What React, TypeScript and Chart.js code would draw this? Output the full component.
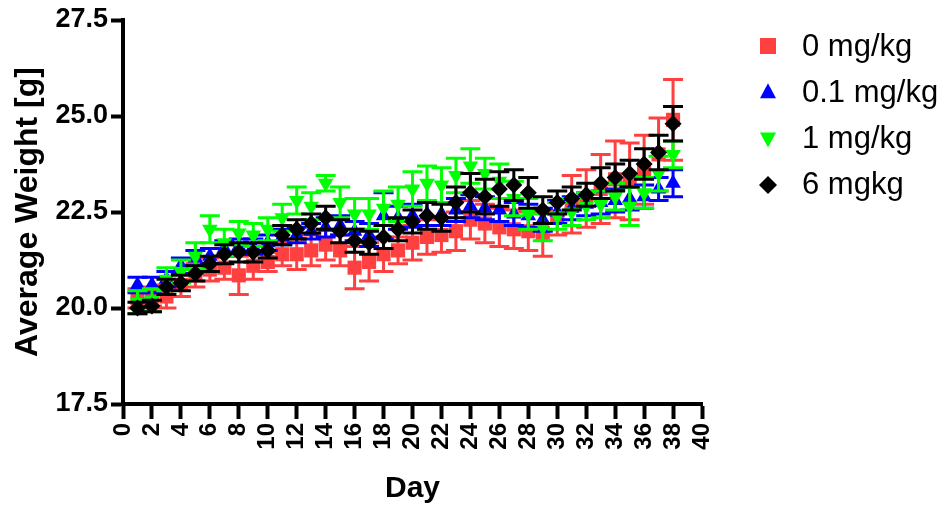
import React, { useEffect, useRef } from 'react';
import { Chart, registerables } from 'chart.js';

Chart.register(...registerables);

const days = [1, 2, 3, 4, 5, 6, 7, 8, 9, 10, 11, 12, 13, 14, 15, 16, 17, 18, 19, 20, 21, 22, 23, 24, 25, 26, 27, 28, 29, 30, 31, 32, 33, 34, 35, 36, 37, 38];

const seriesLabels = ['0 mg/kg', '0.1 mg/kg', '1 mg/kg', '6 mgkg'];
const seriesColors = ['#ff4040', '#0000ff', '#00ff00', '#000000'];

const mean0 = [20.25, 20.3, 20.3, 20.6, 20.85, 21.0, 21.05, 20.85, 21.1, 21.2, 21.4, 21.4, 21.5, 21.65, 21.5, 21.05, 21.2, 21.4, 21.5, 21.7, 21.85, 21.9, 22.0, 22.3, 22.2, 22.1, 22.05, 22.0, 21.95, 22.35, 22.7, 22.85, 23.1, 23.35, 23.3, 23.6, 24.0, 24.9];
const sem0 = [0.25, 0.25, 0.3, 0.3, 0.3, 0.3, 0.3, 0.5, 0.35, 0.25, 0.3, 0.4, 0.4, 0.4, 0.4, 0.55, 0.5, 0.45, 0.35, 0.45, 0.45, 0.45, 0.5, 0.5, 0.5, 0.5, 0.5, 0.5, 0.6, 0.45, 0.75, 0.75, 0.9, 1.0, 1.0, 0.9, 0.95, 1.05];

const mean01 = [20.6, 20.6, 20.75, 21.1, 21.3, 21.35, 21.55, 21.6, 21.6, 21.7, 21.85, 21.9, 22.0, 22.1, 22.15, 22.0, 21.9, 22.4, 22.35, 22.4, 22.45, 22.45, 22.55, 22.65, 22.6, 22.55, 22.45, 22.4, 22.3, 22.5, 22.6, 22.7, 22.75, 22.8, 22.85, 22.9, 23.1, 23.25];
const sem01 = [0.2, 0.2, 0.2, 0.2, 0.2, 0.2, 0.2, 0.2, 0.2, 0.2, 0.2, 0.2, 0.2, 0.25, 0.25, 0.25, 0.3, 0.6, 0.3, 0.3, 0.3, 0.3, 0.3, 0.3, 0.3, 0.3, 0.3, 0.3, 0.3, 0.3, 0.3, 0.3, 0.3, 0.3, 0.3, 0.3, 0.3, 0.35];

const mean1 = [20.15, 20.2, 20.75, 20.95, 21.35, 22.05, 21.7, 21.95, 21.9, 22.05, 22.35, 22.8, 22.65, 23.25, 22.75, 22.45, 22.45, 22.6, 22.7, 23.1, 23.25, 23.2, 23.45, 23.7, 23.5, 23.3, 22.85, 22.45, 22.1, 22.4, 22.5, 22.65, 22.7, 22.9, 22.65, 23.0, 23.5, 24.0];
const sem1 = [0.3, 0.3, 0.3, 0.3, 0.35, 0.35, 0.35, 0.3, 0.3, 0.3, 0.35, 0.35, 0.35, 0.2, 0.4, 0.4, 0.4, 0.45, 0.45, 0.45, 0.45, 0.45, 0.45, 0.45, 0.4, 0.45, 0.45, 0.4, 0.35, 0.35, 0.35, 0.35, 0.35, 0.35, 0.5, 0.4, 0.45, 0.35];

const mean6 = [20.0, 20.05, 20.55, 20.65, 20.9, 21.15, 21.4, 21.45, 21.45, 21.5, 21.9, 22.05, 22.2, 22.35, 22.0, 21.75, 21.7, 21.85, 22.05, 22.25, 22.4, 22.35, 22.75, 23.0, 22.9, 23.1, 23.2, 23.0, 22.55, 22.75, 22.85, 22.95, 23.25, 23.4, 23.5, 23.75, 24.05, 24.8];
const sem6 = [0.15, 0.15, 0.2, 0.2, 0.2, 0.2, 0.25, 0.25, 0.25, 0.2, 0.25, 0.25, 0.25, 0.3, 0.3, 0.3, 0.3, 0.3, 0.3, 0.3, 0.35, 0.35, 0.4, 0.5, 0.45, 0.45, 0.4, 0.4, 0.35, 0.3, 0.3, 0.3, 0.4, 0.35, 0.35, 0.4, 0.45, 0.45];

const xTickValues = [0, 2, 4, 6, 8, 10, 12, 14, 16, 18, 20, 22, 24, 26, 28, 30, 32, 34, 36, 38, 40];
const yTickValues = [17.5, 20.0, 22.5, 25.0, 27.5];

const FONT = "'Liberation Sans', Arial, Helvetica, sans-serif";

const errorBarPlugin = {
  id: 'errorBars',
  beforeDatasetDraw(chart: any, args: any) {
    const ds = chart.data.datasets[args.index];
    const errs: number[] = ds.errors;
    if (!errs) return;
    const ctx = chart.ctx;
    const xs = chart.scales.x;
    const ys = chart.scales.y;
    ctx.save();
    ctx.strokeStyle = ds.borderColor;
    ctx.lineWidth = 3;
    ds.data.forEach((p: any, i: number) => {
      const x = xs.getPixelForValue(p.x);
      const yt = ys.getPixelForValue(p.y + errs[i]);
      const yb = ys.getPixelForValue(p.y - errs[i]);
      ctx.beginPath();
      ctx.moveTo(x, yt);
      ctx.lineTo(x, yb);
      ctx.moveTo(x - 10, yt);
      ctx.lineTo(x + 10, yt);
      ctx.moveTo(x - 10, yb);
      ctx.lineTo(x + 10, yb);
      ctx.stroke();
    });
    ctx.restore();
  },
};

function drawMarker(ctx: CanvasRenderingContext2D, style: string, x: number, y: number, color: string) {
  ctx.fillStyle = color;
  ctx.beginPath();
  if (style === 'square') {
    ctx.rect(x - 8, y - 8, 16, 16);
  } else if (style === 'up') {
    ctx.moveTo(x, y - 9);
    ctx.lineTo(x + 8, y + 6);
    ctx.lineTo(x - 8, y + 6);
    ctx.closePath();
  } else if (style === 'down') {
    ctx.moveTo(x, y + 9);
    ctx.lineTo(x + 8, y - 6);
    ctx.lineTo(x - 8, y - 6);
    ctx.closePath();
  } else {
    ctx.moveTo(x, y - 9);
    ctx.lineTo(x + 9, y);
    ctx.lineTo(x, y + 9);
    ctx.lineTo(x - 9, y);
    ctx.closePath();
  }
  ctx.fill();
}

const legendStyles = ['square', 'up', 'down', 'diamond'];

const legendPlugin = {
  id: 'customLegend',
  afterDraw(chart: any) {
    const ctx = chart.ctx;
    ctx.save();
    ctx.font = `31px ${FONT}`;
    ctx.textBaseline = 'middle';
    ctx.textAlign = 'left';
    seriesLabels.forEach((label, i) => {
      const y = 46 + i * 46.3;
      drawMarker(ctx, legendStyles[i], 768, y, seriesColors[i]);
      ctx.fillStyle = '#000';
      ctx.fillText(label, 802, y + 1);
    });
    ctx.restore();
  },
};

function toPoints(vals: number[]) {
  return days.map((d, i) => ({ x: d, y: vals[i] }));
}

export default function App() {
  const ref = useRef<HTMLCanvasElement>(null);

  useEffect(() => {
    const canvas = ref.current;
    if (!canvas) return;
    const chart = new Chart(canvas, {
      type: 'scatter',
      data: {
        datasets: [
          {
            label: seriesLabels[0],
            data: toPoints(mean0),
            errors: sem0,
            borderColor: seriesColors[0],
            backgroundColor: seriesColors[0],
            pointStyle: 'rect',
            pointRadius: 10,
            borderWidth: 0,
            order: 4,
          } as any,
          {
            label: seriesLabels[1],
            data: toPoints(mean01),
            errors: sem01,
            borderColor: seriesColors[1],
            backgroundColor: seriesColors[1],
            pointStyle: 'triangle',
            pointRadius: 9,
            borderWidth: 0,
            order: 3,
          } as any,
          {
            label: seriesLabels[2],
            data: toPoints(mean1),
            errors: sem1,
            borderColor: seriesColors[2],
            backgroundColor: seriesColors[2],
            pointStyle: 'triangle',
            pointRotation: 180,
            pointRadius: 9,
            borderWidth: 0,
            order: 2,
          } as any,
          {
            label: seriesLabels[3],
            data: toPoints(mean6),
            errors: sem6,
            borderColor: seriesColors[3],
            backgroundColor: seriesColors[3],
            pointStyle: 'rectRot',
            pointRadius: 8.5,
            borderWidth: 0,
            order: 1,
          } as any,
        ],
      },
      options: {
        animation: false,
        responsive: false,
        maintainAspectRatio: false,
        layout: { padding: { left: 0, top: 20, right: 239, bottom: 0 } },
        plugins: {
          legend: { display: false },
          tooltip: { enabled: false },
        },
        scales: {
          x: {
            type: 'linear',
            min: 0,
            max: 40,
            afterBuildTicks: (scale: any) => {
              scale.ticks = xTickValues.map((v) => ({ value: v }));
            },
            afterFit: (scale: any) => {
              scale.height = 104;
            },
            ticks: {
              autoSkip: false,
              minRotation: 90,
              maxRotation: 90,
              padding: 4,
              color: '#000',
              font: { family: FONT, size: 24, weight: 'bold' },
              callback: (v: any) => String(v),
            },
            grid: {
              display: true,
              drawOnChartArea: false,
              drawTicks: true,
              tickLength: 15,
              tickWidth: 4,
              tickColor: '#000',
            },
            border: { display: true, width: 4, color: '#000' },
            title: {
              display: true,
              text: 'Day',
              color: '#000',
              font: { family: FONT, size: 30, weight: 'bold', lineHeight: 1.2 },
              padding: { top: 0, bottom: 1 },
            },
          },
          y: {
            type: 'linear',
            min: 17.5,
            max: 27.5,
            afterBuildTicks: (scale: any) => {
              scale.ticks = yTickValues.map((v) => ({ value: v }));
            },
            afterFit: (scale: any) => {
              scale.width = 123;
            },
            ticks: {
              padding: 3,
              color: '#000',
              font: { family: FONT, size: 27, weight: 'bold' },
              callback: (v: any) => Number(v).toFixed(1),
            },
            grid: {
              display: true,
              drawOnChartArea: false,
              drawTicks: true,
              tickLength: 12,
              tickWidth: 4,
              tickColor: '#000',
            },
            border: { display: true, width: 4, color: '#000' },
            title: {
              display: true,
              text: 'Average Weight [g]',
              color: '#000',
              font: { family: FONT, size: 32, weight: 'bold', lineHeight: 1.2 },
              padding: { top: 9, bottom: 0 },
            },
          },
        },
      } as any,
      plugins: [errorBarPlugin, legendPlugin],
    });
    return () => chart.destroy();
  }, []);

  return (
    <div style={{ position: 'absolute', left: 0, top: 0, width: 941, height: 508, background: '#fff' }}>
      <canvas ref={ref} width={941} height={508} />
    </div>
  );
}
